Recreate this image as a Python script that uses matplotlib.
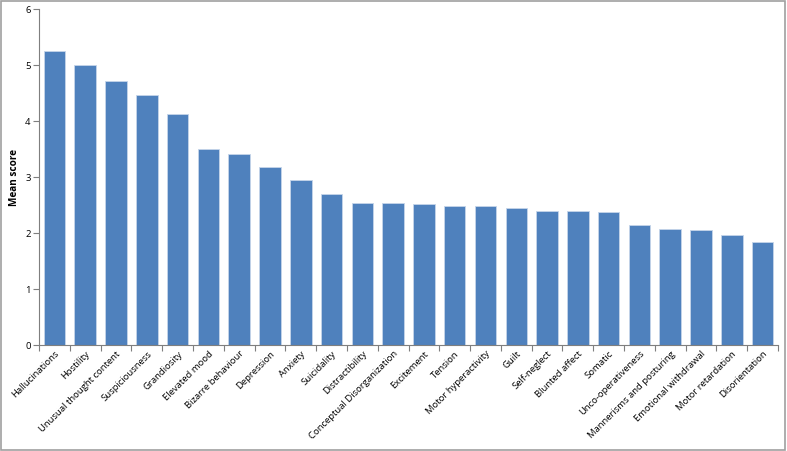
import matplotlib
matplotlib.use("Agg")
import matplotlib.pyplot as plt
from matplotlib.patches import Rectangle

labels = ["Hallucinations", "Hostility", "Unusual thought content", "Suspiciousness",
          "Grandiosity", "Elevated mood", "Bizarre behaviour", "Depression", "Anxiety",
          "Suicidality", "Distractibility", "Conceptual Disorganization", "Excitement",
          "Tension", "Motor hyperactivity", "Guilt", "Self-neglect", "Blunted affect",
          "Somatic", "Unco-operativeness", "Mannerisms and posturing",
          "Emotional withdrawal", "Motor retardation", "Disorientation"]
scores = [5.25, 5.0, 4.71, 4.47, 4.12, 3.5, 3.41, 3.18, 2.94, 2.69, 2.54, 2.54, 2.52,
          2.48, 2.48, 2.44, 2.40, 2.40, 2.38, 2.15, 2.07, 2.05, 1.96, 1.84]

plt.rcParams['font.family'] = ['Open Sans', 'DejaVu Sans']
fig = plt.figure(figsize=(7.87, 4.51), dpi=100)
ax = fig.add_axes([0.0496, 0.235, 0.939, 0.745])

ax.bar(range(len(labels)), scores, width=0.7, color='#4F81BD', edgecolor='#C6D5EA', linewidth=0.6)
ax.set_xlim(-0.5, len(labels) - 0.5)
ax.set_ylim(0, 6)
ax.set_yticks(range(7))
ax.set_xticks([i - 0.5 for i in range(len(labels) + 1)], minor=False)
ax.set_xticklabels([])
ax.set_xticks(range(len(labels)), minor=True)
ax.set_xticklabels(labels, minor=True, rotation=45, ha='right', rotation_mode='anchor', fontsize=6.8)
ax.tick_params(axis='x', which='minor', length=0, pad=3)
ax.tick_params(axis='x', which='major', length=4, direction='out', color='#7f7f7f')
ax.tick_params(axis='y', length=4, direction='out', color='#7f7f7f', labelsize=6.8, pad=2)
for s in ['top', 'right']:
    ax.spines[s].set_visible(False)
for s in ['left', 'bottom']:
    ax.spines[s].set_color('#7f7f7f')
ax.set_ylabel("Mean score", fontsize=7.2, fontweight='bold', labelpad=4)

fig.patches.append(Rectangle((0.001, 0.002), 0.997, 0.996, transform=fig.transFigure,
                             fill=False, edgecolor='#a0a0a0', linewidth=1.2))
fig.savefig("out.png", dpi=100)
